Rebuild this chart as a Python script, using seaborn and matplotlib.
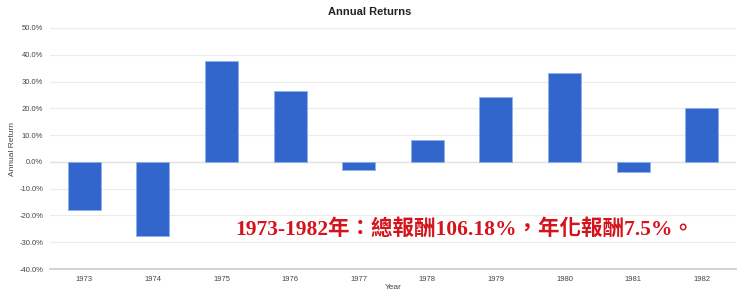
import matplotlib
matplotlib.use("Agg")
import matplotlib.pyplot as plt
import seaborn as sns
import pandas as pd
from matplotlib.ticker import FuncFormatter

years = ["1973", "1974", "1975", "1976", "1977", "1978", "1979", "1980", "1981", "1982"]
returns = [-18.0, -27.6, 37.8, 26.4, -3.0, 8.2, 24.1, 33.1, -3.8, 20.3]
y_ticks = [-40, -30, -20, -10, 0, 10, 20, 30, 40, 50]
title = "Annual Returns"
x_label = "Year"
y_label = "Annual Return"
note = "1973-1982年：總報酬106.18%，年化報酬7.5%。"

sns.set_theme(style="white")
plt.rcParams['font.family'] = ['Liberation Sans', 'DejaVu Sans']

df = pd.DataFrame({"Year": years, "Return": returns})

fig = plt.figure(figsize=(7.4, 2.96), dpi=100)
ax = fig.add_axes([50/740, 1-269/296, 686/740, 241/296])

sns.barplot(data=df, x="Year", y="Return", color="#3366cc", saturation=1,
            width=0.48, edgecolor="#8fb0ee", linewidth=0.6, ax=ax, zorder=3)

ax.set_ylim(-40, 50)
ax.set_xlim(-0.5, len(years) - 0.5)
ax.set_yticks(y_ticks)
ax.yaxis.set_major_formatter(FuncFormatter(lambda v, p: f"{v:.1f}%"))
ax.grid(axis="y", color="#ebebeb", linewidth=0.8, zorder=0)
ax.axhline(0, color="#e3e3e3", linewidth=1.0, zorder=1)
for s in ["top", "right", "left"]:
    ax.spines[s].set_visible(False)
ax.spines["bottom"].set_color("#cccccc")
ax.spines["bottom"].set_linewidth(1.2)
ax.tick_params(axis="both", length=0, labelsize=5.5, labelcolor="#444444")
ax.tick_params(axis="x", pad=5)
ax.tick_params(axis="y", pad=5)

ax.set_xlabel(x_label, fontsize=6, color="#444444", labelpad=1)
ax.yaxis.set_label_coords(-34/686, 0.5)
ax.set_ylabel(y_label, fontsize=6, color="#444444")
fig.text(0.5, 1 - 12/296, title, ha="center", va="center", fontsize=8,
         fontweight="bold", color="#222222")

ax.text((235 - 50) / 686, 0.165, note, transform=ax.transAxes, ha="left", va="center",
        fontsize=15.5, fontweight="bold", color="#d4141c",
        family=['Liberation Serif', 'Noto Sans CJK TC'], zorder=5)

fig.savefig("out.png", dpi=100)
